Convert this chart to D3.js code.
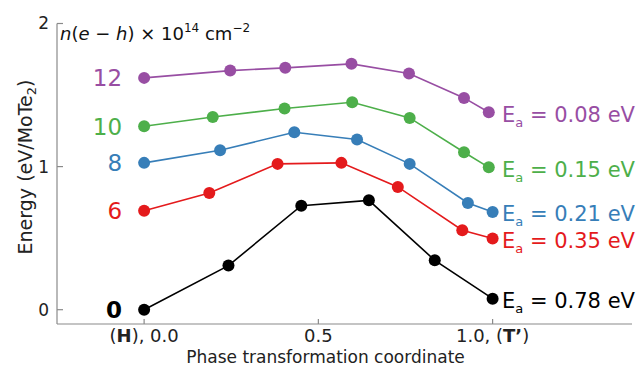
<!DOCTYPE html>
<html><head><meta charset="utf-8">
<script src="https://cdn.jsdelivr.net/npm/d3@7"></script>
<style>
body{margin:0;background:#fff;}
text{font-family:"DejaVu Sans",sans-serif;}
</style></head>
<body><svg id="c" width="641" height="367"></svg>
<script>
const densities = ["12","10","8","6","0"];
const colors = ["#984ea3","#4daf4a","#377eb8","#e41a1c","#000000"];
const activation = ["0.08","0.15","0.21","0.35","0.78"];
const xPurple = [0, 0.247, 0.405, 0.595, 0.760, 0.918, 0.989];
const yPurple = [1.620, 1.671, 1.690, 1.718, 1.650, 1.480, 1.380];
const xGreen = [0, 0.197, 0.403, 0.597, 0.762, 0.918, 0.989];
const yGreen = [1.282, 1.347, 1.406, 1.450, 1.340, 1.100, 0.995];
const xBlue = [0, 0.218, 0.431, 0.611, 0.762, 0.929, 1.0];
const yBlue = [1.026, 1.114, 1.240, 1.189, 1.019, 0.746, 0.683];
const xRed = [0, 0.187, 0.383, 0.566, 0.728, 0.913, 1.0];
const yRed = [0.692, 0.816, 1.019, 1.026, 0.858, 0.555, 0.497];
const xBlack = [0, 0.242, 0.451, 0.645, 0.834, 1.0];
const yBlack = [0, 0.308, 0.727, 0.764, 0.345, 0.077];
const xTicks = [0, 0.5, 1.0];
const yTicks = [0, 1, 2];

const seriesX = [xPurple, xGreen, xBlue, xRed, xBlack];
const seriesY = [yPurple, yGreen, yBlue, yRed, yBlack];

const svg = d3.select("#c");
const x = d3.scaleLinear().domain([-0.25, 1.40]).range([57, 632]);
const y = d3.scaleLinear().domain([-0.1, 2.0]).range([324, 23.5]);
const axisColor = "#8a8a8a";

// spines
svg.append("line").attr("x1", x(-0.25)).attr("x2", x(-0.25)).attr("y1", y(2)).attr("y2", y(-0.1))
  .attr("stroke", axisColor).attr("stroke-width", 1.2);
svg.append("line").attr("x1", x(-0.25)).attr("x2", x(1.40)).attr("y1", y(-0.1)).attr("y2", y(-0.1))
  .attr("stroke", axisColor).attr("stroke-width", 1.2);

// y ticks (inward)
yTicks.forEach(t => {
  svg.append("line").attr("x1", x(-0.25)).attr("x2", x(-0.25) + 6).attr("y1", y(t)).attr("y2", y(t))
    .attr("stroke", axisColor).attr("stroke-width", 1.2);
  svg.append("text").attr("x", x(-0.25) - 8).attr("y", y(t)).attr("dy", "0.35em")
    .attr("text-anchor", "end").attr("font-size", 17).attr("fill", "#222").text(t);
});
// x ticks (inward)
const xTickLabels = [["(", "H", "), 0.0"], ["", "", "0.5"], ["1.0, (", "T’", ")"]];
xTicks.forEach((t, i) => {
  svg.append("line").attr("x1", x(t)).attr("x2", x(t)).attr("y1", y(-0.1)).attr("y2", y(-0.1) - 5)
    .attr("stroke", axisColor).attr("stroke-width", 1.2);
  const tx = svg.append("text").attr("x", x(t)).attr("y", 342).attr("text-anchor", "middle")
    .attr("font-size", 18).attr("fill", "#222");
  const parts = xTickLabels[i];
  tx.append("tspan").text(parts[0]);
  tx.append("tspan").attr("font-weight", "bold").text(parts[1]);
  tx.append("tspan").text(parts[2]);
});

// axis titles
svg.append("text").attr("x", (x(-0.25) + x(1.40)) / 2 - 19).attr("y", 363).attr("text-anchor", "middle")
  .attr("font-size", 17).attr("fill", "#222").text("Phase transformation coordinate");
const yl = svg.append("text").attr("transform", `translate(32,167) rotate(-90)`)
  .attr("text-anchor", "middle").attr("font-size", 19).attr("fill", "#222");
yl.append("tspan").text("Energy (eV/MoTe");
yl.append("tspan").attr("font-size", 13).attr("dy", 4).text("2");
yl.append("tspan").attr("dy", -4).text(")");

// title
const tt = svg.append("text").attr("x", 60).attr("y", 40).attr("font-size", 18).attr("fill", "#111");
tt.append("tspan").attr("font-style", "italic").text("n");
tt.append("tspan").text("(");
tt.append("tspan").attr("font-style", "italic").text("e");
tt.append("tspan").text(" − ");
tt.append("tspan").attr("font-style", "italic").text("h");
tt.append("tspan").text(") × 10");
tt.append("tspan").attr("font-size", 12).attr("dy", -8).text("14");
tt.append("tspan").attr("dy", 8).text(" cm");
tt.append("tspan").attr("font-size", 12).attr("dy", -8).text("−2");

const line = d3.line().x(d => x(d[0])).y(d => y(d[1]));
seriesX.forEach((xs, i) => {
  const pts = xs.map((v, j) => [v, seriesY[i][j]]);
  const g = svg.append("g");
  g.append("path").attr("d", line(pts)).attr("fill", "none").attr("stroke", colors[i]).attr("stroke-width", 1.6);
  g.selectAll("circle").data(pts).enter().append("circle")
    .attr("cx", d => x(d[0])).attr("cy", d => y(d[1])).attr("r", 6).attr("fill", colors[i]);
  // density label
  svg.append("text").attr("x", x(0) - 22).attr("y", y(pts[0][1])).attr("dy", "0.36em")
    .attr("text-anchor", "end").attr("font-size", 23)
    .attr("font-weight", densities[i] === "0" ? "bold" : "normal")
    .attr("fill", colors[i]).text(densities[i]);
  // activation label
  const last = pts[pts.length - 1];
  const ea = svg.append("text").attr("x", 502).attr("y", y(last[1])).attr("dy", "0.45em")
    .attr("font-size", 21).attr("fill", colors[i]);
  ea.append("tspan").text("E");
  ea.append("tspan").attr("font-size", 13).attr("dy", 5).text("a");
  ea.append("tspan").attr("dy", -5).text(" = " + activation[i] + " eV");
});
</script></body></html>
